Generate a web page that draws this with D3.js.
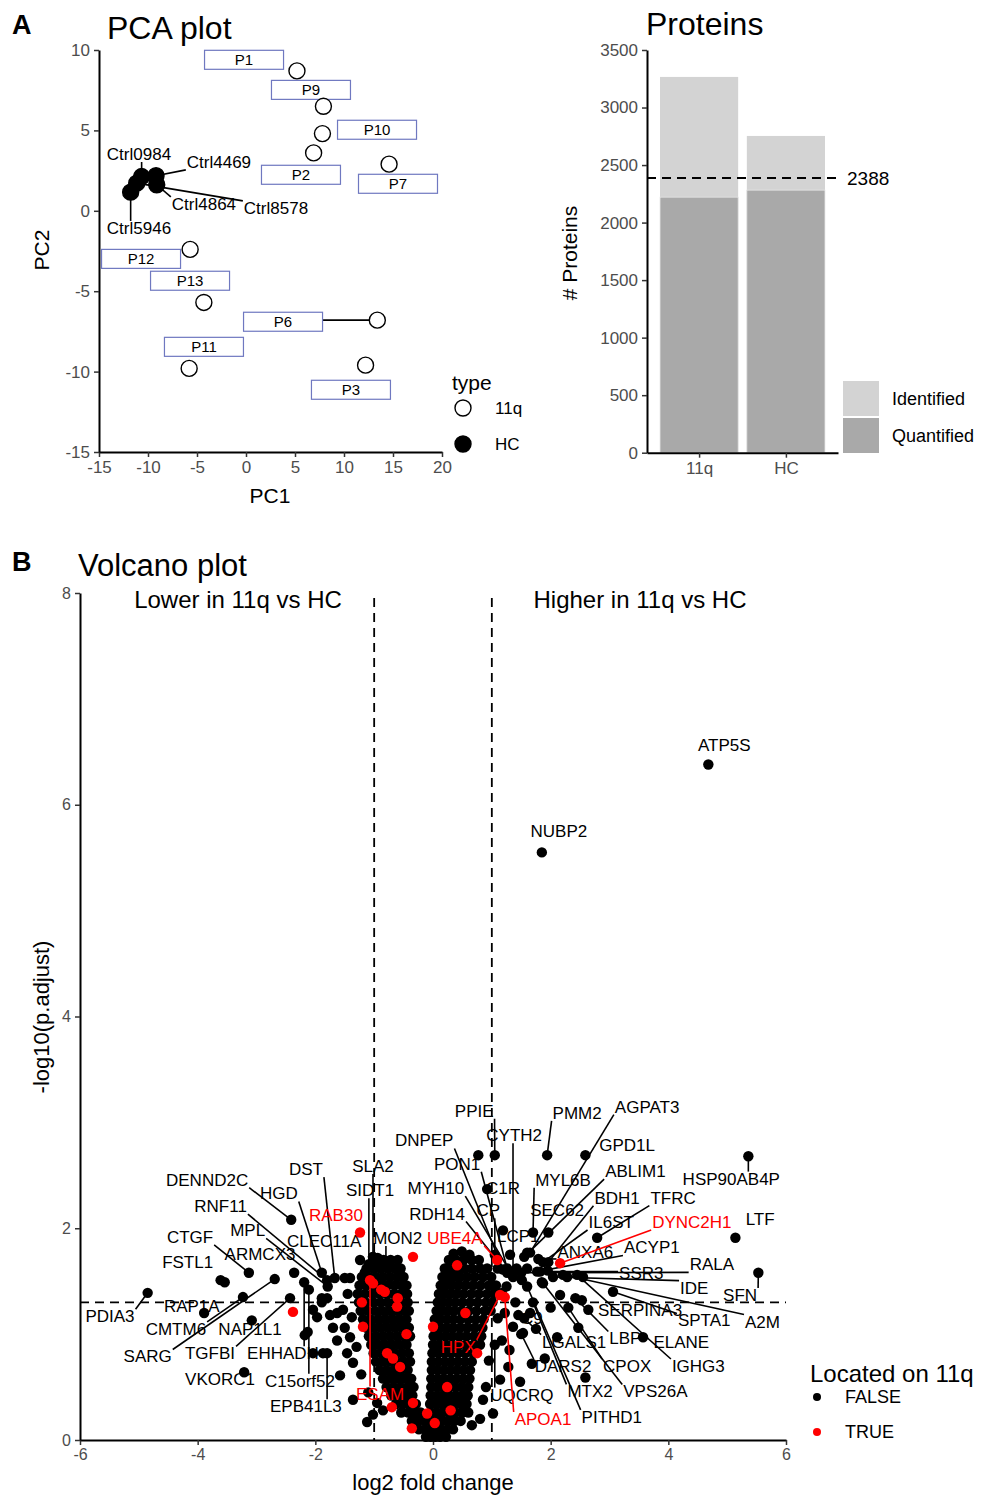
<!DOCTYPE html>
<html>
<head>
<meta charset="utf-8">
<script src="https://cdn.jsdelivr.net/npm/d3@7"></script>
<style>
body{margin:0;background:#fff;}
svg{display:block;font-family:"Liberation Sans",Arial,sans-serif;}
</style>
</head>
<body>
<div id="fig"></div>
<script>
// ---- PCA data ----
var pcaSample = ["P1","P9","P10","P2","P7","P12","P13","P6","P11","P3","Ctrl0984","Ctrl4469","Ctrl4864","Ctrl8578","Ctrl5946"];
var pcaType   = ["11q","11q","11q","11q","11q","11q","11q","11q","11q","11q","HC","HC","HC","HC","HC"];
var pcaPC1    = [5.2,7.9,7.8,6.9,14.6,-5.7,-4.3,13.4,-5.8,12.2,-10.65,-9.18,-9.11,-11.15,-11.77];
var pcaPC2    = [8.7,6.5,4.8,3.6,2.9,-2.4,-5.7,-6.8,-9.8,-9.6,2.13,2.18,1.62,1.72,1.16];
var pcaLabPC1 = [-0.2,6.63,13.37,5.61,15.51,-10.71,-5.71,3.78,-4.29,10.71,-10.92,-2.76,-4.29,3.06,-10.92];
var pcaLabPC2 = [9.39,7.52,5.04,2.24,1.68,-2.99,-4.35,-6.9,-8.46,-11.13,3.54,3.05,0.44,0.19,-1.06];

// ---- protein counts ----
var barGroup = ["11q","HC"];
var barIdentified = [3266,2753];
var barQuantified = [2221,2282];
var sharedCount = 2388;

// ---- volcano: labelled proteins ----
var geneName = ["PDIA3","RAP1A","CMTM6","SARG","NAP1L1","TGFBI","EHHADH","VKORC1","C15orf52","EPB41L3",
  "DENND2C","RNF11","MPL","ARMCX3","CTGF","FSTL1","HGD","DST","CLEC11A","RAB30",
  "SLA2","SIDT1","MON2","ESAM","PPIE","DNPEP","CYTH2","PON1","MYH10","C1R",
  "RDH14","CP","LCP1","UBE4A","HPX","APOA1","PMM2","AGPAT3","GPD1L","MYL6B",
  "ABLIM1","BDH1","TFRC","SEC62","IL6ST","DYNC2H1","ANXA6","ACYP1","RALA","SSR3",
  "IDE","SFN","LTF","HSP90AB4P","A2M","SPTA1","SERPINA3","ELANE","LBP","IGHG3",
  "CPOX","VPS26A","MTX2","PITHD1","DARS2","LGALS1","C9","UQCRQ","ATP5S","NUBP2"];
var geneLfc = [-4.85,-3.89,-3.23,-2.69,-3.08,-2.43,-2.19,-3.21,-2.11,-1.80,
  -2.41,-1.80,-1.79,-2.36,-3.13,-3.61,-1.89,-1.67,-1.24,-1.24,
  -1.02,-1.09,-0.80,-1.07,1.05,1.19,1.36,1.26,1.31,0.92,
  1.26,1.05,1.19,1.09,1.14,1.22,1.94,1.65,2.59,1.70,
  1.55,1.96,2.79,1.96,1.87,2.16,1.79,1.77,1.50,1.82,
  2.04,5.53,5.14,5.36,2.21,3.06,2.64,3.57,2.42,2.45,
  2.30,1.87,1.70,1.60,1.50,1.55,1.45,1.05,4.68,1.85];
var genePadj = [1.39,1.20,1.35,1.52,1.13,1.34,1.49,0.64,1.42,0.82,
  2.08,1.51,1.45,1.58,1.58,1.51,1.58,1.53,1.70,1.96,
  1.73,1.66,1.69,1.51,2.69,1.61,1.54,1.62,1.59,2.37,
  1.58,1.75,1.98,1.70,1.37,1.35,2.69,1.77,2.69,1.96,
  1.73,1.68,1.91,1.96,1.68,1.67,1.71,1.59,1.58,1.59,
  1.54,1.58,1.91,2.68,1.56,1.40,1.23,0.97,1.34,1.56,
  1.25,1.48,1.30,1.45,1.00,1.15,1.18,0.90,6.38,5.55];
var geneOn11q = ["RAB30","ESAM","UBE4A","HPX","APOA1","DYNC2H1"];
var geneLabLfc = [-5.49,-4.10,-4.37,-4.85,-3.11,-3.79,-2.55,-3.62,-2.26,-2.16,
  -3.84,-3.61,-3.15,-2.94,-4.13,-4.17,-2.62,-2.16,-1.85,-1.65,
  -1.02,-1.07,-0.60,-0.90,0.70,-0.15,1.38,0.41,0.05,1.19,
  0.07,0.94,1.45,0.37,0.43,1.87,2.45,3.64,3.30,2.21,
  3.44,3.13,4.08,2.11,3.03,4.40,2.59,3.72,4.74,3.54,
  4.44,5.22,5.56,5.07,5.60,4.61,3.52,4.22,3.27,4.51,
  3.30,3.78,2.67,3.04,2.21,2.40,1.68,1.51,4.95,2.14];
var geneLabPadj = [1.17,1.27,1.05,0.79,1.05,0.82,0.82,0.58,0.56,0.32,
  2.46,2.21,1.98,1.76,1.92,1.68,2.33,2.56,1.88,2.13,
  2.59,2.36,1.91,0.44,3.11,2.83,2.88,2.61,2.38,2.38,
  2.14,2.17,1.93,1.91,0.88,0.20,3.09,3.15,2.79,2.46,
  2.54,2.29,2.29,2.17,2.06,2.06,1.78,1.82,1.66,1.58,
  1.44,1.37,2.09,2.47,1.12,1.13,1.23,0.93,0.96,0.70,
  0.70,0.46,0.46,0.22,0.70,0.93,1.15,0.43,6.57,5.75];

// ---- volcano: unlabelled proteins, not on 11q (rows of the dense cloud: [padj, [lfc...]]) ----
var cloudRows = [
  [0.03,[-0.12,-0.04,0.04,0.12,0.22]],
  [0.10,[-0.24,-0.14,-0.05,0.05,0.14,0.24,0.34]],
  [0.18,[-0.36,-0.25,-0.14,-0.05,0.05,0.15,0.26,0.37,0.47]],
  [0.26,[-0.54,-0.42,-0.31,-0.21,-0.04,0.06,0.16,0.27,0.38,0.50,0.60]],
  [0.34,[-0.63,-0.51,-0.40,-0.29,-0.05,0.05,0.15,0.25,0.36,0.47,0.57]],
  [0.42,[-0.71,-0.59,-0.47,-0.35,-0.04,0.07,0.17,0.28,0.39,0.50,0.59]],
  [0.50,[-0.79,-0.67,-0.55,-0.43,-0.33,-0.03,0.07,0.17,0.27,0.38,0.49,0.60]],
  [0.58,[-0.85,-0.73,-0.61,-0.49,-0.37,-0.03,0.08,0.18,0.29,0.40,0.51,0.62]],
  [0.66,[-0.91,-0.79,-0.67,-0.55,-0.43,-0.02,0.08,0.19,0.30,0.41,0.52,0.63]],
  [0.74,[-0.97,-0.85,-0.73,-0.61,-0.49,-0.39,-0.02,0.09,0.20,0.31,0.42,0.54,0.66]],
  [0.82,[-1.01,-0.89,-0.77,-0.65,-0.53,-0.41,-0.01,0.09,0.20,0.31,0.43,0.55,0.68]],
  [0.90,[-1.05,-0.93,-0.81,-0.69,-0.57,-0.45,0.00,0.10,0.21,0.32,0.44,0.56,0.69,0.80]],
  [0.98,[-1.09,-0.97,-0.85,-0.73,-0.61,-0.49,-0.39,0.01,0.11,0.22,0.33,0.45,0.57,0.70,0.82]],
  [1.06,[-1.13,-1.01,-0.89,-0.77,-0.65,-0.53,-0.41,0.02,0.12,0.23,0.34,0.46,0.58,0.71,0.84]],
  [1.14,[-1.19,-1.06,-0.93,-0.81,-0.69,-0.57,-0.45,0.03,0.13,0.24,0.35,0.47,0.60,0.73,0.86]],
  [1.22,[-1.23,-1.11,-0.98,-0.86,-0.74,-0.62,-0.50,-0.41,0.06,0.15,0.25,0.36,0.48,0.61,0.74,0.88,0.98]],
  [1.30,[-1.26,-1.14,-1.01,-0.89,-0.77,-0.65,-0.53,-0.43,0.08,0.17,0.27,0.38,0.50,0.63,0.76,0.90,1.01]],
  [1.38,[-1.28,-1.16,-1.03,-0.91,-0.79,-0.67,-0.55,-0.44,0.10,0.19,0.29,0.40,0.52,0.65,0.78,0.92,1.04]],
  [1.46,[-1.25,-1.13,-1.01,-0.89,-0.77,-0.65,-0.53,-0.45,0.13,0.22,0.32,0.43,0.55,0.68,0.81,0.95,1.07]],
  [1.54,[-1.21,-1.09,-0.97,-0.85,-0.73,-0.61,-0.50,0.16,0.25,0.35,0.46,0.58,0.71,0.85,0.99]],
  [1.62,[-1.13,-1.01,-0.89,-0.77,-0.65,-0.55,0.20,0.30,0.41,0.53,0.66,0.80,0.92]],
  [1.70,[-0.96,-0.84,-0.72,-0.60,0.27,0.39,0.52,0.66,0.78]]
];
var scatterFalse = [[-2.04,1.23],[-2.18,0.99],[-2.13,1.02],[-2.04,0.82],[-1.87,0.82],[-1.58,0.61],[-1.36,0.38],
  [-1.80,1.34],[-1.50,1.53],[-1.41,1.53],[-1.63,1.20],[-1.53,1.23],[-1.70,1.06],[-1.50,1.06],[-1.41,0.97],
  [-1.63,0.94],[-1.46,0.82],[-1.36,0.73],[-1.12,0.17],[-1.02,0.24],[-1.16,1.58],[-1.02,1.73],[-0.94,1.72],
  [-3.54,1.49],[-1.89,1.30],[-1.75,1.18],[-1.45,1.38],[-1.38,1.16],[-1.30,0.88],[-1.22,0.62],[-1.10,0.45],
  [-0.95,0.35],[-0.85,0.28],[-1.89,1.34],[-1.97,1.16],
  [0.77,2.69],[1.31,1.75],[1.60,1.77],[2.28,1.54],[2.55,1.54],[1.85,1.49],[2.16,1.37],[2.53,1.32],
  [2.47,1.06],[2.11,0.97],[1.90,0.77],[2.59,0.59],[1.65,1.20],[1.51,1.51],[1.34,1.58],[1.17,1.39],
  [1.22,1.20],[1.36,1.07],[1.17,0.94],[1.53,1.01],[1.28,0.69],[1.14,0.57],[1.48,0.55],[0.85,0.38],
  [1.02,0.25],[0.66,0.14],[0.49,1.78],[1.10,1.62],[1.42,1.62],[1.25,1.45],[1.40,1.30],[1.10,1.15],
  [1.30,0.85],[0.95,0.75],[0.90,0.50],[1.05,1.45],[0.62,1.75],[0.35,1.76],[1.60,1.62],[1.95,1.60],
  [2.00,1.25],[1.75,1.05],[0.80,0.20],[1.68,0.72]];
// ---- volcano: unlabelled proteins located on 11q ----
var scatterTrue = [[-2.38,1.21],[-1.21,1.30],[-1.19,1.07],[-1.02,1.48],[-0.88,1.42],[-0.82,1.40],[-0.60,1.34],
  [-0.61,1.26],[-0.78,0.82],[-0.68,0.77],[-0.56,0.69],[-0.70,0.31],[-0.34,0.35],[-0.36,0.11],[-0.10,0.25],
  [-0.34,1.73],[0.00,1.07],[0.24,0.50],[0.41,1.65],[0.75,0.82],[0.03,0.16],[0.30,0.28],[0.55,1.20],[-0.45,1.00]];

var yTicksVolcano = [0,2,4,6,8];
var xTicksVolcano = [-6,-4,-2,0,2,4,6];
var pValueCut = 1.30, fcCut = 1;

var svg = d3.select('#fig').append('svg').attr('width',981).attr('height',1496);
var plain = function(d){ return String(d); };   // hyphen minus, as in the figure

function styleAxis(g, fs){
  g.attr('font-family',null).attr('font-size',fs);
  g.select('.domain').attr('stroke','#000').attr('stroke-width',2);
  g.selectAll('.tick line').attr('stroke','#333').attr('stroke-width',1.5);
  g.selectAll('.tick text').attr('fill','#4d4d4d');
}

// label + leader line, line goes from point to nearest edge of label box
function addLabel(segG, txtG, d, opt){
  var bx;
  if (opt.box){
    var w = opt.box[0], h = opt.box[1];
    txtG.append('rect').attr('x',d.lx-w/2).attr('y',d.ly-h/2).attr('width',w).attr('height',h)
      .attr('fill','#fff').attr('stroke','#6f78c0').attr('stroke-width',1.2);
    bx = {x:d.lx-w/2, y:d.ly-h/2, width:w, height:h};
  }
  var t = txtG.append('text').attr('x',d.lx).attr('y',d.ly).attr('dy','0.36em')
    .attr('text-anchor','middle').attr('font-size',opt.fs).attr('fill',opt.color).text(d.name);
  if (!bx){ var b = t.node().getBBox(); bx = {x:b.x-1, y:b.y+2, width:b.width+2, height:b.height-4}; }
  var nx = Math.max(bx.x, Math.min(d.px, bx.x+bx.width));
  var ny = Math.max(bx.y, Math.min(d.py, bx.y+bx.height));
  var dist = Math.hypot(nx-d.px, ny-d.py);
  if (dist - opt.r > opt.minLen){
    segG.append('line').attr('x1',d.px).attr('y1',d.py).attr('x2',nx).attr('y2',ny)
      .attr('stroke',opt.color).attr('stroke-width',1.6);
  }
}

// ============ A: PCA plot ============
var px = d3.scaleLinear().domain([-15,20]).range([99,442]);
var py = d3.scaleLinear().domain([-15,10]).range([452,50]);

svg.append('text').attr('x',12).attr('y',34).attr('font-size',27).attr('font-weight','bold').text('A');
svg.append('text').attr('x',107).attr('y',39).attr('font-size',32).text('PCA plot');

var pcaAxX = svg.append('g').attr('transform','translate(0,452)')
  .call(d3.axisBottom(px).tickValues([-15,-10,-5,0,5,10,15,20]).tickFormat(plain).tickSize(5).tickSizeOuter(0).tickPadding(4));
styleAxis(pcaAxX,17);
var pcaAxY = svg.append('g').attr('transform','translate(99,0)')
  .call(d3.axisLeft(py).tickValues([-15,-10,-5,0,5,10]).tickFormat(plain).tickSize(5).tickSizeOuter(0).tickPadding(4));
styleAxis(pcaAxY,17);
svg.append('text').attr('x',270).attr('y',503).attr('text-anchor','middle').attr('font-size',21).text('PC1');
svg.append('text').attr('transform','translate(49,250) rotate(-90)').attr('text-anchor','middle').attr('font-size',21).text('PC2');

var pcaSeg = svg.append('g'), pcaTxt = svg.append('g'), pcaPts = svg.append('g');
pcaSample.forEach(function(s,i){
  var d = {name:s, px:px(pcaPC1[i]), py:py(pcaPC2[i]), lx:px(pcaLabPC1[i]), ly:py(pcaLabPC2[i])};
  if (pcaType[i]==='11q') addLabel(pcaSeg, pcaTxt, d, {fs:15, color:'#000', r:8, minLen:12, box:[79,19]});
  else addLabel(pcaSeg, pcaTxt, d, {fs:17, color:'#000', r:8, minLen:6});
});
pcaPts.selectAll('circle').data(pcaSample).join('circle')
  .attr('cx',function(d,i){return px(pcaPC1[i]);})
  .attr('cy',function(d,i){return py(pcaPC2[i]);})
  .attr('r',8)
  .attr('fill',function(d,i){return pcaType[i]==='HC' ? '#000' : '#fff';})
  .attr('stroke','#000').attr('stroke-width',1.4);

// legend
svg.append('text').attr('x',452).attr('y',390).attr('font-size',21).text('type');
[['11q','#fff',408],['HC','#000',444]].forEach(function(k){
  svg.append('circle').attr('cx',463).attr('cy',k[2]).attr('r',8).attr('fill',k[1]).attr('stroke','#000').attr('stroke-width',1.4);
  svg.append('text').attr('x',495).attr('y',k[2]).attr('dy','0.36em').attr('font-size',17).text(k[0]);
});

// ============ Proteins bar chart ============
var bx = d3.scalePoint().domain(barGroup).range([647,838]).padding(0.6);
var by = d3.scaleLinear().domain([0,3500]).range([452.7,50]);
var bw = bx.step()*0.9;

svg.append('text').attr('x',646).attr('y',35).attr('font-size',32).text('Proteins');

svg.append('g').selectAll('rect').data(barGroup).join('rect')
  .attr('x',function(d){return bx(d)-bw/2;}).attr('width',bw)
  .attr('y',function(d,i){return by(barIdentified[i]);})
  .attr('height',function(d,i){return by(0)-by(barIdentified[i]);})
  .attr('fill','#d3d3d3');
svg.append('g').selectAll('rect').data(barGroup).join('rect')
  .attr('x',function(d){return bx(d)-bw/2;}).attr('width',bw)
  .attr('y',function(d,i){return by(barQuantified[i]);})
  .attr('height',function(d,i){return by(0)-by(barQuantified[i]);})
  .attr('fill','#a9a9a9').attr('stroke','#e6e6e6').attr('stroke-width',0.8);

svg.append('line').attr('x1',647).attr('x2',838).attr('y1',by(sharedCount)).attr('y2',by(sharedCount))
  .attr('stroke','#000').attr('stroke-width',2).attr('stroke-dasharray','9,6');
svg.append('text').attr('x',847).attr('y',by(sharedCount)).attr('dy','0.36em').attr('font-size',19).text(sharedCount);

var barAxX = svg.append('g').attr('transform','translate(0,'+by(0)+')')
  .call(d3.axisBottom(bx).tickSize(5).tickSizeOuter(0).tickPadding(4));
styleAxis(barAxX,17);
var barAxY = svg.append('g').attr('transform','translate(647,0)')
  .call(d3.axisLeft(by).tickValues(d3.range(0,3501,500)).tickFormat(plain).tickSize(5).tickSizeOuter(0).tickPadding(4));
styleAxis(barAxY,17);
svg.append('text').attr('transform','translate(577,253) rotate(-90)').attr('text-anchor','middle').attr('font-size',21).text('# Proteins');

[['Identified','#d3d3d3',381],['Quantified','#a9a9a9',418]].forEach(function(k){
  svg.append('rect').attr('x',843).attr('y',k[2]).attr('width',36).attr('height',35).attr('fill',k[1]);
  svg.append('text').attr('x',892).attr('y',k[2]+18).attr('dy','0.36em').attr('font-size',18).text(k[0]);
});

// ============ B: Volcano plot ============
var vx = d3.scaleLinear().domain([-6,6]).range([80,786]);
var vy = d3.scaleLinear().domain([0,8]).range([1440,593]);

svg.append('text').attr('x',12).attr('y',571).attr('font-size',27).attr('font-weight','bold').text('B');
svg.append('text').attr('x',78).attr('y',576).attr('font-size',31).text('Volcano plot');

svg.append('text').attr('x',238).attr('y',608).attr('text-anchor','middle').attr('font-size',24).text('Lower in 11q vs HC');
svg.append('text').attr('x',640).attr('y',608).attr('text-anchor','middle').attr('font-size',24).text('Higher in 11q vs HC');

[-fcCut, fcCut].forEach(function(v){
  svg.append('line').attr('x1',vx(v)).attr('x2',vx(v)).attr('y1',598).attr('y2',vy(0))
    .attr('stroke','#000').attr('stroke-width',1.8).attr('stroke-dasharray','9,6');
});
svg.append('line').attr('x1',vx(-6)).attr('x2',vx(6)).attr('y1',vy(pValueCut)).attr('y2',vy(pValueCut))
  .attr('stroke','#000').attr('stroke-width',1.8).attr('stroke-dasharray','9,6');

var vAxX = svg.append('g').attr('transform','translate(0,1440)')
  .call(d3.axisBottom(vx).tickValues(xTicksVolcano).tickFormat(plain).tickSize(5).tickSizeOuter(0).tickPadding(4));
styleAxis(vAxX,16);
var vAxY = svg.append('g').attr('transform','translate(80,0)')
  .call(d3.axisLeft(vy).tickValues(yTicksVolcano).tickFormat(plain).tickSize(5).tickSizeOuter(0).tickPadding(4));
styleAxis(vAxY,16);
svg.append('text').attr('x',433).attr('y',1490).attr('text-anchor','middle').attr('font-size',22).text('log2 fold change');
svg.append('text').attr('transform','translate(49,1017) rotate(-90)').attr('text-anchor','middle').attr('font-size',22).text('-log10(p.adjust)');

var vSeg = svg.append('g'), vTxt = svg.append('g'), vPts = svg.append('g'), vSegRed = svg.append('g'), vTxtRed = svg.append('g');

var genes = geneName.map(function(n,i){
  return {name:n, lfc:geneLfc[i], padj:genePadj[i], on11q:geneOn11q.indexOf(n)>=0,
    px:vx(geneLfc[i]), py:vy(genePadj[i]), lx:vx(geneLabLfc[i]), ly:vy(geneLabPadj[i])};
});
genes.forEach(function(d){
  if (d.on11q) addLabel(vSegRed, vTxtRed, d, {fs:17, color:'#ff0000', r:5, minLen:10});
  else addLabel(vSeg, vTxt, d, {fs:17, color:'#000', r:5, minLen:10});
});

var pts = [];
cloudRows.forEach(function(row){ row[1].forEach(function(x){ pts.push({lfc:x, padj:row[0], on11q:false}); }); });
scatterFalse.forEach(function(p){ pts.push({lfc:p[0], padj:p[1], on11q:false}); });
genes.forEach(function(d){ if(!d.on11q) pts.push(d); });
scatterTrue.forEach(function(p){ pts.push({lfc:p[0], padj:p[1], on11q:true}); });
genes.forEach(function(d){ if(d.on11q) pts.push(d); });

vPts.selectAll('circle').data(pts).join('circle')
  .attr('cx',function(d){return vx(d.lfc);})
  .attr('cy',function(d){return vy(d.padj);})
  .attr('r',5.2)
  .attr('fill',function(d){return d.on11q ? '#ff0000' : '#000';});

// legend
svg.append('text').attr('x',810).attr('y',1382).attr('font-size',24).text('Located on 11q');
[['FALSE','#000',1397],['TRUE','#ff0000',1432]].forEach(function(k){
  svg.append('circle').attr('cx',817).attr('cy',k[2]).attr('r',4).attr('fill',k[1]);
  svg.append('text').attr('x',845).attr('y',k[2]).attr('dy','0.36em').attr('font-size',18).text(k[0]);
});
</script>
</body>
</html>
